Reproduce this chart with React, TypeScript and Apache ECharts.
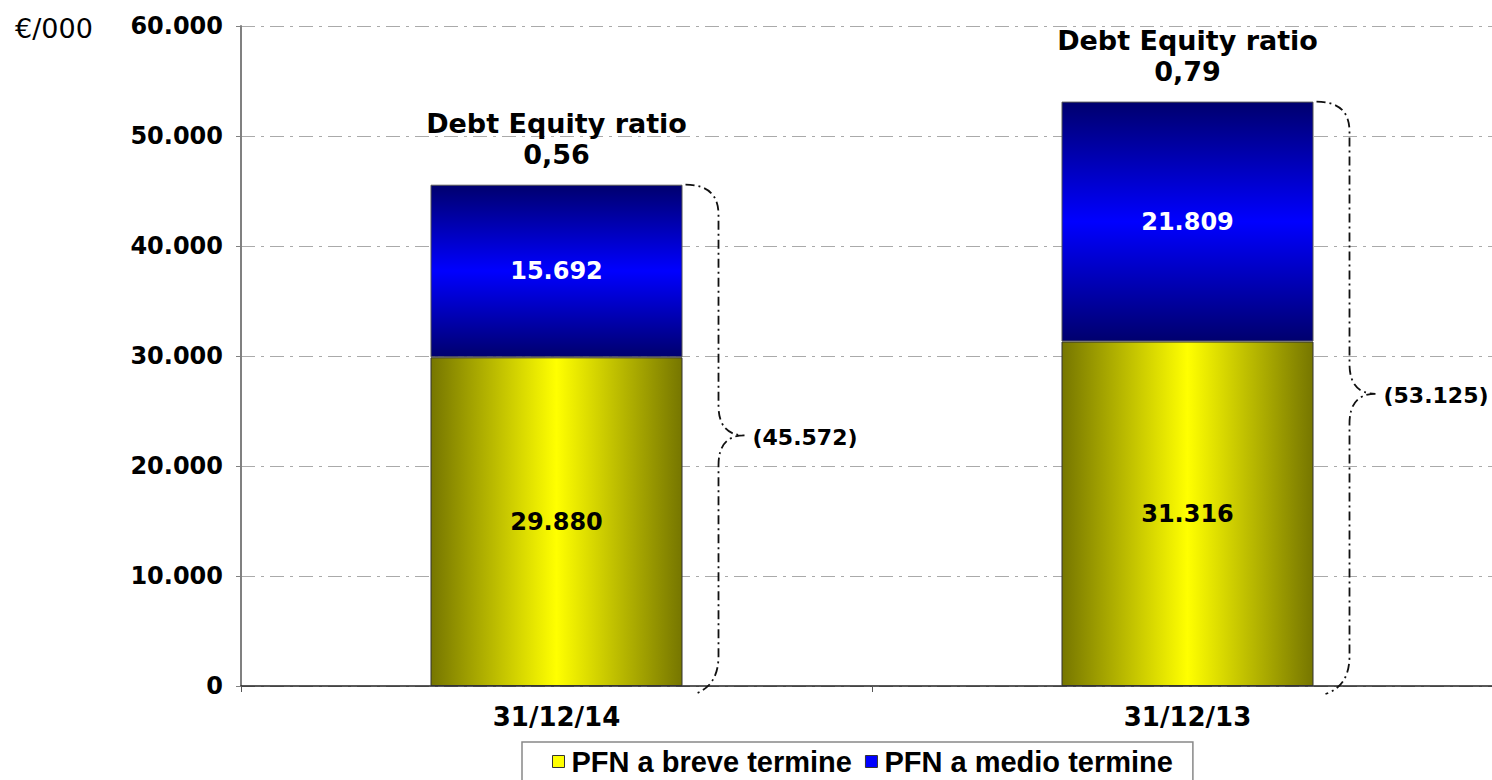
import React, { useEffect, useRef } from "react";
import * as echarts from "echarts";

const categories = ["31/12/14", "31/12/13"];
const breveTermine = [29880, 31316];
const medioTermine = [15692, 21809];
const debtEquityRatios = ["0,56", "0,79"];
const yTicks = { min: 0, max: 60000, interval: 10000 };
const seriesNames = ["PFN a breve termine", "PFN a medio termine"];

const BAR_WIDTH = 252;
const fmt = (n: number) =>
  String(Math.round(n)).replace(/\B(?=(\d{3})+(?!\d))/g, ".");

export default function App() {
  const ref = useRef<HTMLDivElement>(null);
  useEffect(() => {
    if (!ref.current) return;
    const chart = echarts.init(ref.current, null, { renderer: "svg" });
    const totals = breveTermine.map((v, i) => v + medioTermine[i]);
    const font = "DejaVu Sans";

    const yellow = new echarts.graphic.LinearGradient(0, 0, 1, 0, [
      { offset: 0, color: "#767600" },
      { offset: 0.5, color: "#ffff00" },
      { offset: 1, color: "#767600" },
    ]);
    const blue = new echarts.graphic.LinearGradient(0, 0, 0, 1, [
      { offset: 0, color: "#00006e" },
      { offset: 0.5, color: "#0000ff" },
      { offset: 1, color: "#00006e" },
    ]);

    chart.setOption({
      animation: false,
      backgroundColor: "#ffffff",
      title: {
        text: "€/000",
        left: 10,
        top: 10,
        textStyle: { fontFamily: font, fontSize: 27, fontWeight: "normal", color: "#000" },
      },
      grid: { left: 241, right: 0, top: 26, bottom: 94 },
      legend: {
        data: [
          { name: seriesNames[0], itemStyle: { color: "#ffff00", borderColor: "#333", borderWidth: 1 } },
          { name: seriesNames[1], itemStyle: { color: "#0000ff", borderColor: "#333", borderWidth: 1 } },
        ],
        left: 522,
        top: 742,
        padding: [5, 20, 10, 30],
        itemGap: 13,
        itemWidth: 12,
        itemHeight: 12,
        icon: "rect",
        borderColor: "#888",
        borderWidth: 1.5,
        backgroundColor: "#fff",
        textStyle: { fontFamily: "Liberation Sans", fontWeight: "bold", fontSize: 29, color: "#000", padding: [0, 0, 0, 2] },
      },
      xAxis: {
        type: "category",
        data: categories,
        axisLine: { lineStyle: { color: "#222", width: 1.5 } },
        axisTick: { show: true, length: 6, lineStyle: { color: "#555" } },
        axisLabel: { fontFamily: font, fontWeight: "bold", fontSize: 26, color: "#000", margin: 18 },
      },
      yAxis: {
        type: "value",
        min: yTicks.min,
        max: yTicks.max,
        interval: yTicks.interval,
        axisLine: { show: true, lineStyle: { color: "#808080", width: 2 } },
        axisTick: { show: true, length: 5, lineStyle: { color: "#808080" } },
        axisLabel: { fontFamily: font, fontWeight: "bold", fontSize: 24, color: "#000", margin: 18, formatter: (v: number) => fmt(v) },
        splitLine: { show: true, lineStyle: { color: "#aaa", width: 1, type: [14, 6, 3, 6] } },
      },
      series: [
        {
          name: seriesNames[0],
          type: "bar",
          stack: "pfn",
          barWidth: BAR_WIDTH,
          data: breveTermine,
          itemStyle: { color: yellow, borderColor: "#333", borderWidth: 1 },
          label: { show: true, position: "inside", formatter: (p: any) => fmt(p.value), fontFamily: font, fontWeight: "bold", fontSize: 24, color: "#000" },
        },
        {
          name: seriesNames[1],
          type: "bar",
          stack: "pfn",
          barWidth: BAR_WIDTH,
          data: medioTermine,
          itemStyle: { color: blue, borderColor: "#555", borderWidth: 1 },
          label: { show: true, position: "inside", formatter: (p: any) => fmt(p.value), fontFamily: font, fontWeight: "bold", fontSize: 24, color: "#fff" },
        },
        {
          name: "ratio",
          type: "scatter",
          data: totals.map((t, i) => [i, t]),
          symbolSize: 0,
          itemStyle: { color: "#000", opacity: 1 },
          silent: true,
          label: {
            show: true,
            position: "top",
            distance: 15,
            formatter: (p: any) => "Debt Equity ratio\n" + debtEquityRatios[p.dataIndex],
            fontFamily: font,
            fontWeight: "bold",
            fontSize: 27,
            lineHeight: 31,
            color: "#000",
            opacity: 1,
            align: "center",
          },
        },
        {
          name: "brace",
          type: "custom",
          silent: true,
          clip: false,
          z: 5,
          data: totals.map((t, i) => [i, t]),
          encode: { x: 0, y: 1 },
          renderItem: (params: any, api: any) => {
            const idx = api.value(0);
            const total = api.value(1);
            const topP = api.coord([idx, total]);
            const botP = api.coord([idx, 0]);
            const R = topP[0] + BAR_WIDTH / 2;
            const top = topP[1];
            const bot = botP[1];
            const mid = (top + bot) / 2;
            const v = R + 36;
            const tip = R + 62;
            const r = 30;
            const d =
              `M ${R + 3} ${top} Q ${v} ${top} ${v} ${top + r} ` +
              `L ${v} ${mid - r} Q ${v} ${mid} ${tip} ${mid} ` +
              `M ${tip} ${mid} Q ${v} ${mid} ${v} ${mid + r} ` +
              `L ${v} ${bot - r} Q ${v} ${bot} ${R + 12} ${bot + 8}`;
            return {
              type: "group",
              children: [
                {
                  type: "path",
                  shape: { pathData: d },
                  style: { stroke: "#111", fill: "none", lineWidth: 1.8, lineDash: [9, 4, 2, 4] },
                },
                {
                  type: "text",
                  x: tip + 8,
                  y: mid + 2,
                  style: {
                    text: "(" + fmt(total) + ")",
                    fontFamily: font,
                    fontWeight: "bold",
                    fontSize: 22,
                    fill: "#000",
                    align: "left",
                    verticalAlign: "middle",
                  },
                },
              ],
            };
          },
        },
      ],
    });
    return () => chart.dispose();
  }, []);

  return (
    <div style={{ position: "fixed", left: 0, top: 0, width: 1492, height: 780, overflow: "hidden", background: "#fff" }}>
      <div ref={ref} style={{ width: 1503, height: 780 }} />
    </div>
  );
}
